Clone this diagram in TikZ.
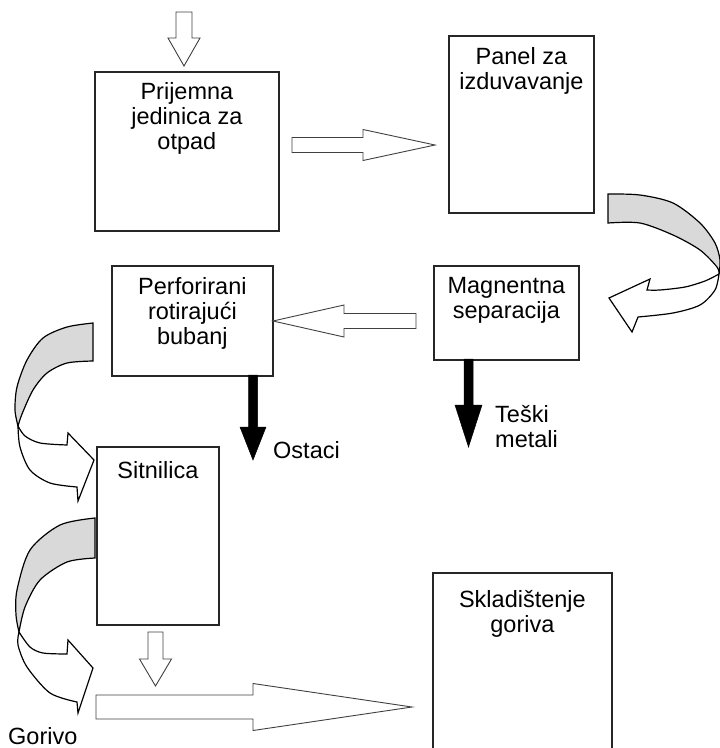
\documentclass[tikz,border=0pt]{standalone}
\usepackage{fontspec}
\setmainfont{Liberation Sans}
\usetikzlibrary{positioning}

\tikzset{
  stage/.style={draw=black!85, line width=1.8pt, inner sep=0pt, anchor=north west},
  stage text/.style={inner sep=0pt, align=center, anchor=north, font=\fontsize{23.5}{25}\selectfont},
  side text/.style={inner sep=0pt, align=left, font=\fontsize{23.5}{25}\selectfont},
  hollow block/.style={draw=black!75, line width=0.9pt, fill=white, line join=miter},
  black block/.style={draw=black, fill=black, line width=0.5pt, line join=miter},
  twist back/.style={draw=black, fill=black!15, line width=1.2pt},
  twist front/.style={draw=black, fill=white, line width=1.2pt, line join=miter},
}
% name, left, top, width, height
\newcommand{\stagebox}[5]{\node[stage, minimum width=#4pt, minimum height=#5pt] (#1) at (#2,#3) {};}
% box name, gap below the top, text
\newcommand{\stagetext}[3]{\node[stage text, below=#2pt of #1.north] (#1-text) {#3};}
% style, tail, angle, length, head length, shaft half width, head half width
\newcommand{\blockarrow}[7]{\draw[#1, shift={#2}, rotate=#3] (0,-#6) -- (#4-#5,-#6) -- (#4-#5,-#7) -- (#4,0) -- (#4-#5,#7) -- (#4-#5,#6) -- (0,#6) -- cycle;}

\begin{document}
\begin{tikzpicture}[x=1pt, y=-1pt]
\clip (0,0) rectangle (720,748);

\stagebox{prijemna}{94}{70.7}{184}{159}
\stagetext{prijemna}{12}{Prijemna\\jedinica za\\otpad}
\stagebox{panel}{448}{35}{145}{177}
\stagetext{panel}{12}{Panel za\\izduvavanje}
\stagebox{magnet}{433}{265}{145}{94}
\stagetext{magnet}{12}{Magnentna\\separacija}
\stagebox{bubanj}{111}{265}{161}{110}
\stagetext{bubanj}{12}{Perforirani\\rotirajući\\bubanj}
\stagebox{sitnilica}{96}{446}{122}{178}
\stagetext{sitnilica}{15}{Sitnilica}
\stagebox{skladiste}{432}{572}{179}{200}
\stagetext{skladiste}{18}{Skladištenje\\goriva}

\blockarrow{hollow block}{(184,12)}{-90}{54}{28}{8}{16}
\blockarrow{hollow block}{(292,145)}{0}{143}{72}{7.5}{15.5}
\blockarrow{hollow block}{(416,321)}{180}{143}{71}{7.5}{16}
\blockarrow{hollow block}{(155.5,632)}{-90}{54}{27}{7.5}{16}
\blockarrow{hollow block}{(96,707)}{0}{316}{159}{12}{23.5}

\blockarrow{black block}{(253,375)}{-90}{85}{33}{4.5}{13}
\blockarrow{black block}{(468.5,359)}{-90}{88}{42}{4.5}{13.5}
\node[side text, anchor=base west] (ostaci) at (273,458) {Ostaci};
\node[side text, anchor=north west] (teski) at (495,405) {Teški\\metali};
\node[side text, anchor=base west] (gorivo) at (8,744) {Gorivo};

% panel -> separacija
\filldraw[twist back] plot[smooth] coordinates {(608,194) (640,195) (673,203) (700,223) (715,243) (720,260) (719,274)}
  -- plot[smooth] coordinates {(719,274) (717,267) (700,250) (673,235) (640,223) (608,223)} -- cycle;
\filldraw[twist front] plot[smooth] coordinates {(719,274) (705,281) (685,287) (660,290) (647,290)}
  -- (650,279) -- (609,298) -- (632,332) -- (638,317)
  -- plot[smooth] coordinates {(638,317) (673,313) (700,305) (715,290) (719,274)} -- cycle;

% bubanj -> sitnilica
\filldraw[twist back] plot[smooth] coordinates {(93,323) (67,327) (43,338) (27,360) (17,387) (15,410) (18,426)}
  -- plot[smooth] coordinates {(18,426) (22,414) (33,390) (47,373) (67,363) (93,361)} -- cycle;
\filldraw[twist front] plot[smooth] coordinates {(18,426) (25,436) (40,443) (67,445)}
  -- (68,433) -- (94,460) -- (78,501) -- (77,487)
  -- plot[smooth] coordinates {(77,487) (50,483) (30,470) (20,447) (18,426)} -- cycle;

% sitnilica -> gorivo
\filldraw[twist back] plot[smooth] coordinates {(95,518) (60,525) (30,550) (17,590) (16,615) (19,632)}
  -- plot[smooth] coordinates {(19,632) (25,607) (40,580) (67,562) (95,558)} -- cycle;
\filldraw[twist front] plot[smooth] coordinates {(19,632) (30,647) (43,653) (67,654)}
  -- (68,640) -- (93,668) -- (78,713) -- (77,702)
  -- plot[smooth] coordinates {(77,702) (50,693) (27,667) (18,645) (19,632)} -- cycle;
\end{tikzpicture}
\end{document}
